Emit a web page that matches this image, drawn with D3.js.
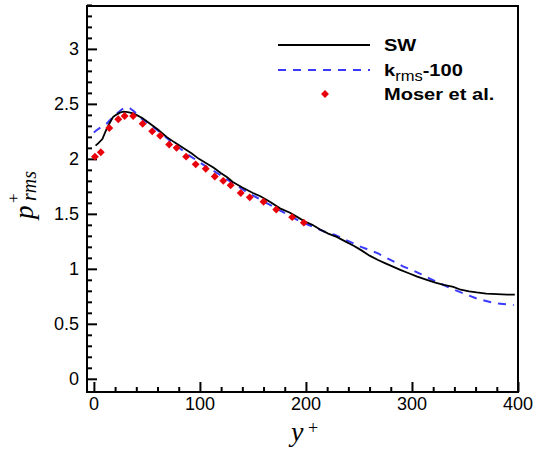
<!DOCTYPE html>
<html>
<head>
<meta charset="utf-8">
<script src="https://cdn.jsdelivr.net/npm/d3@7/dist/d3.min.js"></script>
<style>
  html, body { margin: 0; padding: 0; background: #fff; }
  svg { display: block; }
</style>
</head>
<body>
<svg id="chart" width="537" height="451"></svg>
<script>
// ---- data ----
const swY   = [1.6, 4, 8, 11, 14, 18, 21, 24.5, 28, 32, 36, 40, 46, 53, 60, 68.6, 76, 84, 92, 99, 106, 113, 120, 126, 131, 140, 150, 157, 166, 175.5, 185, 192, 199, 206, 213, 221, 229, 237, 245, 252, 260, 268, 275, 282, 289, 297, 305, 314, 322, 330, 339, 346, 354, 361, 370, 380, 390, 397];
const swV   = [2.12, 2.14, 2.18, 2.25, 2.31, 2.38, 2.40, 2.42, 2.43, 2.425, 2.415, 2.40, 2.37, 2.32, 2.27, 2.20, 2.15, 2.10, 2.05, 2.00, 1.96, 1.92, 1.87, 1.83, 1.79, 1.74, 1.69, 1.66, 1.61, 1.55, 1.51, 1.47, 1.43, 1.40, 1.36, 1.32, 1.29, 1.25, 1.21, 1.17, 1.12, 1.08, 1.05, 1.02, 0.99, 0.96, 0.93, 0.90, 0.875, 0.855, 0.835, 0.81, 0.795, 0.785, 0.775, 0.77, 0.765, 0.765];
const kY    = [0, 2.5, 7, 12, 16, 20, 24, 27.7, 31, 34, 38, 43, 50, 60, 75, 90, 106, 118, 131, 144, 157, 170, 185, 197, 207, 217, 227, 236, 245, 252, 260, 268, 276, 284, 292, 300, 309, 317, 326, 335, 345, 353, 361, 369, 377, 386, 396];
const kV    = [2.24, 2.26, 2.29, 2.32, 2.36, 2.40, 2.43, 2.46, 2.47, 2.46, 2.43, 2.38, 2.33, 2.26, 2.14, 2.03, 1.93, 1.86, 1.78, 1.70, 1.63, 1.56, 1.48, 1.42, 1.38, 1.34, 1.31, 1.27, 1.23, 1.20, 1.17, 1.14, 1.10, 1.06, 1.02, 0.99, 0.95, 0.91, 0.87, 0.83, 0.79, 0.76, 0.73, 0.71, 0.69, 0.68, 0.67];
const moserY = [1, 6.5, 14.5, 23, 29, 37, 46, 55, 62.5, 71, 78, 87, 96, 105.5, 114, 122, 129, 138.5, 147, 160, 172, 187, 198];
const moserV = [2.02, 2.06, 2.28, 2.36, 2.39, 2.39, 2.32, 2.25, 2.21, 2.13, 2.10, 2.02, 1.95, 1.91, 1.84, 1.80, 1.76, 1.69, 1.65, 1.61, 1.54, 1.47, 1.42];
const yTickLabels = ["0", "0.5", "1", "1.5", "2", "2.5", "3"];
const xTickLabels = ["0", "100", "200", "300", "400"];
const legendNames = ["SW", "k", "Moser et al."];

// ---- layout ----
const svg = d3.select("#chart");
const L = 87, R = 518, T = 6, B = 392;
const x = d3.scaleLinear().domain([-6.5, 400]).range([L, R]);
const y = d3.scaleLinear().domain([-0.12, 3.39]).range([B, T]);

const axisColor = "#000";
const plot = svg.append("g");

svg.append("clipPath").attr("id", "clip").append("rect")
  .attr("x", L).attr("y", T).attr("width", R - L).attr("height", B - T);

// ---- y axis ticks (inward) ----
const yMajor = yTickLabels.map(Number);
const yMinor = d3.range(0, 3.4001, 0.1).filter(v => Math.abs(v * 2 - Math.round(v * 2)) > 1e-6);
const yAxisMajor = d3.axisRight(y).tickValues(yMajor).tickSize(10).tickFormat("");
const yAxisMinor = d3.axisRight(y).tickValues(yMinor).tickSize(5).tickFormat("");
[yAxisMajor, yAxisMinor].forEach(ax => {
  const g = plot.append("g").attr("transform", `translate(${L},0)`).call(ax);
  g.select(".domain").remove();
  g.selectAll("line").attr("stroke", axisColor).attr("stroke-width", 2);
});
plot.append("g").selectAll("text").data(yTickLabels).join("text")
  .attr("x", L - 8).attr("y", d => y(+d)).attr("dy", "0.35em")
  .attr("text-anchor", "end")
  .style("font-family", "'Liberation Sans', Arial, sans-serif").style("font-size", "18px")
  .text(d => d);

// ---- x axis ticks (inward) ----
const xMajor = xTickLabels.map(Number);
const xMinor = d3.range(20, 400, 20).filter(v => v % 100 !== 0);
const xAxisMajor = d3.axisTop(x).tickValues(xMajor).tickSize(10).tickFormat("");
const xAxisMinor = d3.axisTop(x).tickValues(xMinor).tickSize(5).tickFormat("");
[xAxisMajor, xAxisMinor].forEach(ax => {
  const g = plot.append("g").attr("transform", `translate(0,${B})`).call(ax);
  g.select(".domain").remove();
  g.selectAll("line").attr("stroke", axisColor).attr("stroke-width", 2);
});
plot.append("g").selectAll("text").data(xTickLabels).join("text")
  .attr("x", d => x(+d)).attr("y", B + 18)
  .attr("text-anchor", "middle")
  .style("font-family", "'Liberation Sans', Arial, sans-serif").style("font-size", "18px")
  .text(d => d);

// ---- frame ----
plot.append("rect").attr("x", L).attr("y", T).attr("width", R - L).attr("height", B - T)
  .attr("fill", "none").attr("stroke", axisColor).attr("stroke-width", 2);

// ---- data ----
const dataG = svg.append("g").attr("clip-path", "url(#clip)");
const line = d3.line().x(d => x(d[0])).y(d => y(d[1]));
const kData = kY.map((v, i) => [v, kV[i]]);
const swData = swY.map((v, i) => [v, swV[i]]);
const moserData = moserY.map((v, i) => [v, moserV[i]]);

dataG.append("path").datum(kData).attr("d", line)
  .attr("fill", "none").attr("stroke", "#3a3aff").attr("stroke-width", 2)
  .attr("stroke-dasharray", "8,7");
dataG.append("path").datum(swData).attr("d", line)
  .attr("fill", "none").attr("stroke", "#000").attr("stroke-width", 1.8);
const diamond = d3.symbol().type(d3.symbolDiamond2).size(40);
dataG.append("g").selectAll("path").data(moserData).join("path")
  .attr("transform", d => `translate(${x(d[0])},${y(d[1])})`)
  .attr("d", diamond).attr("fill", "#e8000b");

// ---- legend ----
const lg = svg.append("g");
lg.append("line").attr("x1", 278).attr("x2", 370).attr("y1", 45).attr("y2", 45)
  .attr("stroke", "#000").attr("stroke-width", 2);
lg.append("line").attr("x1", 278).attr("x2", 370).attr("y1", 70).attr("y2", 70)
  .attr("stroke", "#3a3aff").attr("stroke-width", 2).attr("stroke-dasharray", "8,7");
lg.append("path").attr("transform", "translate(325,94)").attr("d", diamond).attr("fill", "#e8000b");

const lt = lg.append("g").attr("transform", "translate(384,0) scale(1.18,1)")
  .style("font-family", "'Liberation Sans', Arial, sans-serif")
  .style("font-weight", "bold").style("font-size", "17px");
lt.append("text").attr("x", 0).attr("y", 51).text(legendNames[0]);
const kt = lt.append("text").attr("x", 0).attr("y", 76);
kt.append("tspan").text(legendNames[1]);
kt.append("tspan").attr("dy", 5).style("font-size", "14px").style("font-weight", "normal").text("rms");
kt.append("tspan").attr("dy", -5).text("-100");
lt.append("text").attr("x", 0).attr("y", 100).text(legendNames[2]);

// ---- axis titles ----
const serif = "'Liberation Serif', 'Times New Roman', serif";
const yl = svg.append("g").attr("transform", "translate(33,0) rotate(-90)")
  .style("font-family", serif).style("font-style", "italic");
yl.append("text").attr("x", -219).attr("y", 0).style("font-size", "27px").text("p");
yl.append("text").attr("x", -203).attr("y", -14).style("font-size", "17px").style("font-style", "normal").text("+");
yl.append("text").attr("x", -201).attr("y", 3).style("font-size", "20px").text("rms");

const xl = svg.append("g").style("font-family", serif);
xl.append("text").attr("x", 291).attr("y", 441).style("font-size", "28px").style("font-style", "italic").text("y");
xl.append("text").attr("x", 308).attr("y", 434).style("font-size", "18px").text("+");
</script>
</body>
</html>
